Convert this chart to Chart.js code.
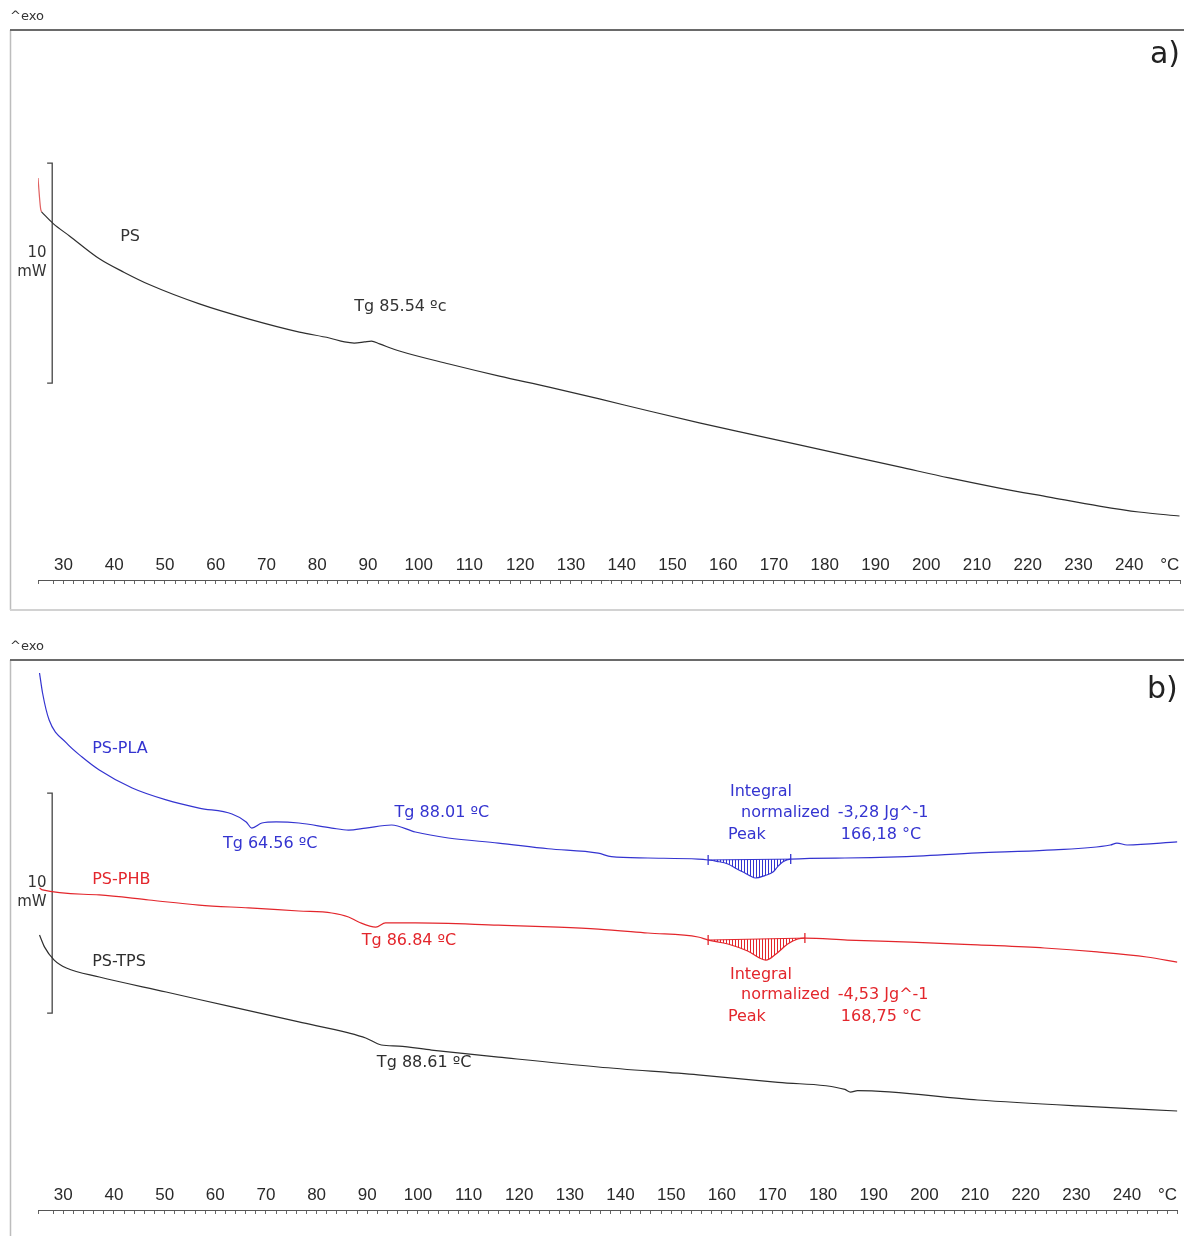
<!DOCTYPE html>
<html>
<head>
<meta charset="utf-8">
<script src="https://cdn.jsdelivr.net/npm/chart.js@4.4.1/dist/chart.umd.min.js"></script>
<style>
  html, body { margin: 0; padding: 0; background: #fff; overflow: hidden; }
  canvas { position: absolute; left: 0; }
  #chartA { top: 0; }
  #chartB { top: 630px; }
</style>
</head>
<body>
<canvas id="chartA" width="1184" height="620"></canvas>
<canvas id="chartB" width="1184" height="606"></canvas>
<script>
// temperatures in °C, heat flow in mW (arbitrary offset, 10 mW scale bar)
const psStartT = [25.0, 25.5, 25.7];
const psStartY = [18.27, 16.9, 16.73];
const psT = [25.7, 28.0, 31.2, 37.1, 42.0, 46.9, 56.8, 66.6, 76.5, 82.4, 85.4, 87.3, 89.3, 90.7, 92.3, 96.2, 106.0, 115.9, 125.7, 135.6, 145.4, 155.3, 165.1, 175.0, 184.8, 194.7, 204.5, 214.4, 224.2, 234.1, 241.9, 249.9];
const psY = [16.73, 16.2, 15.64, 14.6, 13.98, 13.43, 12.55, 11.86, 11.27, 11.0, 10.82, 10.77, 10.82, 10.86, 10.73, 10.41, 9.82, 9.27, 8.77, 8.23, 7.68, 7.14, 6.64, 6.14, 5.64, 5.14, 4.64, 4.18, 3.77, 3.36, 3.09, 2.91];

const plaT = [25.3, 25.9, 27.2, 30.6, 33.7, 37.1, 43.6, 50.3, 56.8, 63.3, 66.1, 67.2, 69.2, 72.0, 76.5, 83.0, 86.3, 89.7, 94.8, 99.5, 106.0, 115.9, 125.7, 135.6, 138.2, 145.4, 155.3, 157.3, 159.0, 161.2, 163.0, 164.2, 165.5, 166.7, 168.5, 170.1, 171.0, 172.0, 173.6, 184.3, 194.7, 210.5, 224.2, 236.7, 238.0, 240.0, 249.9];
const plaY = [24.41, 23.5, 22.27, 21.23, 20.59, 20.0, 19.18, 18.64, 18.27, 18.0, 17.64, 17.36, 17.59, 17.64, 17.59, 17.36, 17.27, 17.36, 17.5, 17.18, 16.91, 16.68, 16.42, 16.22, 16.06, 16.0, 15.95, 15.91, 15.85, 15.73, 15.5, 15.36, 15.2, 15.09, 15.2, 15.36, 15.6, 15.82, 15.95, 16.0, 16.05, 16.23, 16.36, 16.59, 16.68, 16.59, 16.73];
const plaBase = [157.3, 173.6];

const phbT = [25.3, 25.9, 37.1, 46.9, 56.8, 66.6, 76.5, 83.0, 86.3, 88.3, 91.7, 93.6, 99.5, 115.9, 127.7, 135.6, 145.4, 155.3, 157.3, 161.2, 165.1, 168.7, 170.7, 173.0, 175.0, 176.4, 184.8, 197.3, 210.5, 223.7, 234.1, 243.9, 249.9];
const phbY = [14.64, 14.55, 14.32, 14.09, 13.86, 13.73, 13.59, 13.5, 13.32, 13.09, 12.86, 13.05, 13.05, 12.95, 12.86, 12.77, 12.59, 12.41, 12.27, 12.09, 11.77, 11.36, 11.64, 12.09, 12.32, 12.36, 12.27, 12.18, 12.05, 11.91, 11.73, 11.5, 11.27];
const phbBase = [157.3, 176.4];

const tpsT = [25.3, 26.3, 28.2, 30.6, 37.1, 50.3, 63.3, 76.5, 86.3, 89.7, 92.8, 96.2, 102.7, 115.9, 135.6, 155.3, 171.1, 184.3, 185.4, 186.8, 210.5, 230.2, 249.9];
const tpsY = [12.5, 11.95, 11.36, 11.0, 10.59, 9.91, 9.23, 8.55, 8.05, 7.82, 7.5, 7.45, 7.27, 6.95, 6.5, 6.14, 5.8, 5.48, 5.36, 5.43, 5.0, 4.73, 4.5];

// 10 mW scale bar
const barT = [26.8, 27.8, 27.8, 26.8];
const barY = [18.95, 18.95, 8.95, 8.95];

const BLUE = '#3434d0';
const RED = '#e3262c';
const DARK = '#2e2e2e';

function pts(xs, ys) {
    return xs.map((x, i) => ({ x: x, y: ys[i] }));
}

function between(xs, ys, range) {
    return pts(xs, ys).filter(p => p.x >= range[0] && p.x <= range[1]);
}

function baseline(xs, ys, range) {
    const all = pts(xs, ys);
    return [all.find(p => p.x === range[0]), all.find(p => p.x === range[1])];
}

function hatch(color) {
    const c = document.createElement('canvas');
    c.width = 3;
    c.height = 4;
    const g = c.getContext('2d');
    g.fillStyle = color;
    g.fillRect(0, 0, 1, 4);
    return g.createPattern(c, 'repeat');
}

function line(data, color, extra) {
    return Object.assign({
        data: data,
        showLine: true,
        borderColor: color,
        borderWidth: 1.2,
        pointRadius: 0,
        cubicInterpolationMode: 'monotone',
        fill: false
    }, extra || {});
}

const decor = {
    id: 'decor',
    beforeDraw(chart, args, opts) {
        const { ctx, chartArea } = chart;
        ctx.save();
        ctx.fillStyle = '#fff';
        ctx.fillRect(0, 0, chart.width, chart.height);
        ctx.strokeStyle = '#bdbdbd';
        ctx.lineWidth = 1.5;
        ctx.beginPath();
        ctx.moveTo(10.5, chartArea.top);
        ctx.lineTo(10.5, opts.frameBottom);
        ctx.stroke();
        if (opts.closed) {
            ctx.strokeStyle = '#d2d2d2';
            ctx.lineWidth = 2;
            ctx.beginPath();
            ctx.moveTo(10, opts.frameBottom);
            ctx.lineTo(chart.width, opts.frameBottom);
            ctx.stroke();
        }
        ctx.strokeStyle = '#6a6a6a';
        ctx.lineWidth = 2;
        ctx.beginPath();
        ctx.moveTo(10, chartArea.top);
        ctx.lineTo(chart.width, chartArea.top);
        ctx.stroke();
        ctx.fillStyle = '#333';
        ctx.font = '13px "DejaVu Sans"';
        ctx.textBaseline = 'middle';
        ctx.textAlign = 'left';
        ctx.fillText('^exo', 10, chartArea.top - 13);
        ctx.restore();
    },
    afterDatasetsDraw(chart, args, opts) {
        const { ctx, chartArea } = chart;
        const xs = chart.scales.x, ys = chart.scales.y;
        ctx.save();
        ctx.textBaseline = 'middle';
        ctx.font = '15px "DejaVu Sans"';
        ctx.fillStyle = '#333';
        ctx.textAlign = 'right';
        ctx.fillText('10', xs.getPixelForValue(26.7), ys.getPixelForValue(14.86));
        ctx.fillText('mW', xs.getPixelForValue(26.7), ys.getPixelForValue(13.98));
        ctx.textAlign = 'left';
        ctx.font = '16px "DejaVu Sans"';
        opts.notes.forEach(n => {
            ctx.fillStyle = n.color;
            ctx.fillText(n.text, xs.getPixelForValue(n.t), ys.getPixelForValue(n.v));
        });
        ctx.fillStyle = '#222';
        ctx.font = '30px "DejaVu Sans"';
        ctx.textAlign = 'right';
        ctx.fillText(opts.tag, chartArea.right, chartArea.top + opts.tagOffset);
        ctx.restore();
    }
};

function makeChart(id, datasets, padBottom, decorOpts) {
    return new Chart(document.getElementById(id), {
        type: 'scatter',
        data: { datasets: datasets },
        options: {
            responsive: false,
            animation: false,
            events: [],
            layout: { padding: { left: 38, right: 4, top: 30, bottom: padBottom } },
            plugins: {
                legend: { display: false },
                tooltip: { enabled: false },
                decor: decorOpts
            },
            scales: {
                x: {
                    type: 'linear',
                    min: 25,
                    max: 250,
                    afterFit: s => { s.height = 2; },
                    border: { display: true, color: '#555', width: 1 },
                    grid: { display: true, drawOnChartArea: false, drawTicks: true, tickLength: 4, tickColor: '#666', tickWidth: 1 },
                    ticks: {
                        stepSize: 2,
                        autoSkip: false,
                        maxRotation: 0,
                        mirror: true,
                        padding: 4,
                        color: '#2a2a2a',
                        font: { family: 'Liberation Sans', size: 17 },
                        callback: v => v === 248 ? '°C' : (v % 10 === 0 && v <= 240 ? String(v) : '')
                    }
                },
                y: { display: false, min: 0, max: 25 }
            }
        },
        plugins: [decor]
    });
}

const scaleBar = () => line(pts(barT, barY), '#444', { borderWidth: 1.3, cubicInterpolationMode: 'default' });

makeChart('chartA', [
    line(pts(psT, psY), DARK),
    line(pts(psStartT, psStartY), '#e06060'),
    scaleBar()
], 38, {
    tag: 'a)',
    tagOffset: 25,
    closed: true,
    frameBottom: 610,
    notes: [
        { text: 'PS', t: 41.2, v: 15.59, color: '#333' },
        { text: 'Tg 85.54 ºc', t: 87.3, v: 12.41, color: '#333' }
    ]
});

const plaBaseline = baseline(plaT, plaY, plaBase);
const phbBaseline = baseline(phbT, phbY, phbBase);

makeChart('chartB', [
    line(pts(plaT, plaY), BLUE),
    line(pts(phbT, phbY), RED),
    line(pts(tpsT, tpsY), DARK),
    line(between(plaT, plaY, plaBase), BLUE, { borderWidth: 0, fill: 4, backgroundColor: hatch(BLUE) }),
    line(plaBaseline, BLUE, { borderWidth: 1, pointRadius: 5, pointStyle: 'line', rotation: 90, pointBorderColor: BLUE, pointBorderWidth: 1.3 }),
    line(between(phbT, phbY, phbBase), RED, { borderWidth: 0, fill: 6, backgroundColor: hatch(RED) }),
    line(phbBaseline, RED, { borderWidth: 1, pointRadius: 5, pointStyle: 'line', rotation: 90, pointBorderColor: RED, pointBorderWidth: 1.3 }),
    scaleBar()
], 24, {
    tag: 'b)',
    tagOffset: 30,
    closed: false,
    frameBottom: 606,
    notes: [
        { text: 'PS-PLA', t: 35.7, v: 20.95, color: BLUE },
        { text: 'Tg 64.56 ºC', t: 61.5, v: 16.64, color: BLUE },
        { text: 'Tg 88.01 ºC', t: 95.4, v: 18.05, color: BLUE },
        { text: 'Integral', t: 161.6, v: 19.0, color: BLUE },
        { text: 'normalized', t: 163.8, v: 18.05, color: BLUE },
        { text: '-3,28 Jg^-1', t: 182.9, v: 18.05, color: BLUE },
        { text: 'Peak', t: 161.2, v: 17.05, color: BLUE },
        { text: '166,18 °C', t: 183.5, v: 17.05, color: BLUE },
        { text: 'PS-PHB', t: 35.7, v: 15.0, color: RED },
        { text: 'Tg 86.84 ºC', t: 88.9, v: 12.23, color: RED },
        { text: 'Integral', t: 161.6, v: 10.68, color: RED },
        { text: 'normalized', t: 163.8, v: 9.77, color: RED },
        { text: '-4,53 Jg^-1', t: 182.9, v: 9.77, color: RED },
        { text: 'Peak', t: 161.2, v: 8.77, color: RED },
        { text: '168,75 °C', t: 183.5, v: 8.77, color: RED },
        { text: 'PS-TPS', t: 35.7, v: 11.27, color: DARK },
        { text: 'Tg 88.61 ºC', t: 91.9, v: 6.68, color: DARK }
    ]
});
</script>
</body>
</html>
